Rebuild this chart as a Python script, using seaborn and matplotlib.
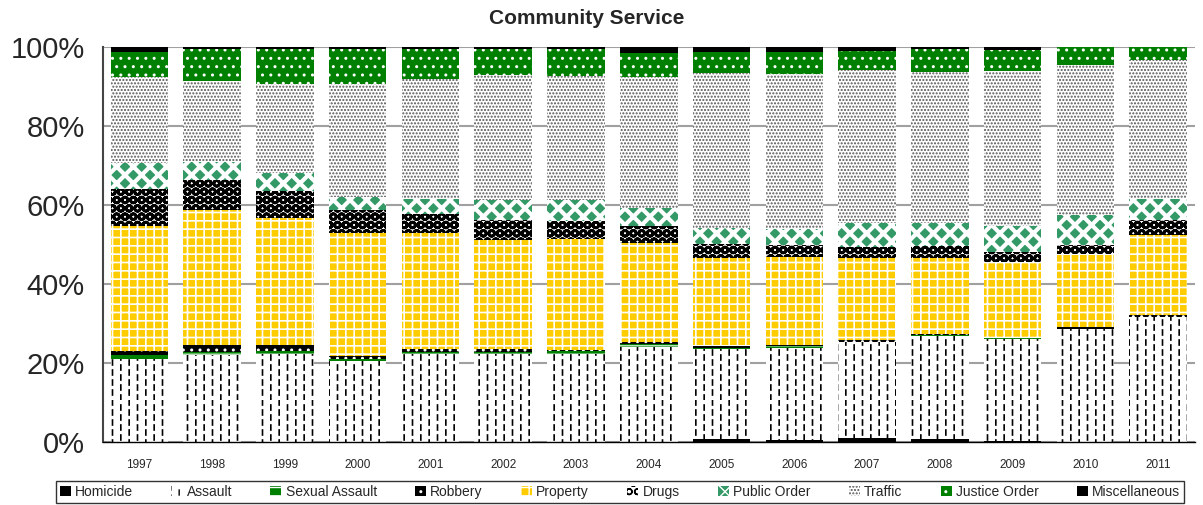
import numpy as np
import seaborn as sns
import pandas as pd
from matplotlib import pyplot as plt
from matplotlib import hatch as mhatch
from matplotlib.path import Path
from matplotlib.patches import Patch

years = [str(y) for y in range(1997, 2012)]
categories = ['Homicide', 'Assault', 'Sexual Assault', 'Robbery', 'Property',
              'Drugs', 'Public Order', 'Traffic', 'Justice Order', 'Miscellaneous']

# percentage share of each offence group per year
homicide = [0, 0, 0, 0, 0, 0, 0, 0, 0.8, 0.6, 1.0, 0.8, 0.2, 0, 0]
assault = [21.1, 22.0, 22.2, 20.5, 22.2, 22.2, 22.4, 24.1, 22.8, 23.2, 24.2, 26.0, 26.0, 28.5, 31.6]
sexual_assault = [0.9, 0.8, 0.8, 0.5, 0.6, 0.6, 0.7, 0.7, 0.3, 0.4, 0.2, 0.3, 0.1, 0.2, 0.1]
robbery = [1.0, 1.7, 1.5, 0.8, 0.7, 0.7, 0.3, 0.5, 0.3, 0.4, 0.5, 0.2, 0.1, 0.3, 0.4]
property_ = [31.7, 34.2, 32.3, 31.2, 29.5, 27.8, 28.1, 25.2, 22.3, 22.3, 20.6, 19.4, 19.2, 18.7, 20.4]
drugs = [9.4, 7.7, 6.8, 5.7, 4.7, 4.9, 4.5, 4.2, 3.6, 3.0, 3.0, 2.9, 2.5, 2.3, 3.7]
public_order = [6.5, 4.6, 4.6, 3.4, 4.0, 5.1, 5.3, 4.6, 4.2, 4.2, 5.9, 5.8, 6.6, 7.6, 5.5]
traffic = [22.0, 20.5, 22.6, 28.7, 30.2, 31.7, 31.4, 33.3, 39.3, 39.3, 38.9, 38.4, 39.4, 37.9, 35.1]
justice_order = [6.3, 8.0, 8.9, 8.7, 7.6, 6.5, 6.8, 6.0, 5.3, 5.5, 4.9, 5.7, 5.2, 4.5, 3.2]
miscellaneous = [1.1, 0.5, 0.3, 0.5, 0.5, 0.5, 0.5, 1.4, 1.1, 1.1, 0.8, 0.5, 0.7, 0, 0]

df = pd.DataFrame({
    'Homicide': homicide, 'Assault': assault, 'Sexual Assault': sexual_assault,
    'Robbery': robbery, 'Property': property_, 'Drugs': drugs,
    'Public Order': public_order, 'Traffic': traffic,
    'Justice Order': justice_order, 'Miscellaneous': miscellaneous,
}, index=years)
df = df.div(df.sum(axis=1), axis=0) * 100
cum = df.cumsum(axis=1)


# '|' drawn as staggered short dashes (Excel's "dashed vertical" fill), '+' stays solid
class DashedVerticalHatch(mhatch.HatchPatternBase):
    def __init__(self, hatch, density):
        self.num_solid = int(hatch.count('+') * density)
        self.num_dashed = int(hatch.count('|') * density)
        self.dashes = 10
        self.num_vertices = 2 * (self.num_solid + self.num_dashed * self.dashes)

    def set_vertices_and_codes(self, vertices, codes):
        i = 0
        if self.num_solid:
            steps, step = np.linspace(0.0, 1.0, self.num_solid, False, retstep=True)
            for s in steps + step / 2:
                vertices[i] = (s, 0.0)
                vertices[i + 1] = (s, 1.0)
                i += 2
        if self.num_dashed:
            steps, step = np.linspace(0.0, 1.0, self.num_dashed, False, retstep=True)
            seg = 1.0 / self.dashes
            for k, s in enumerate(steps + step / 2):
                off = (k % 2) * seg / 2
                for d in range(self.dashes):
                    y0 = d * seg + off
                    vertices[i] = (s, y0)
                    vertices[i + 1] = (s, y0 + seg * 0.5)
                    i += 2
        codes[0::2] = Path.MOVETO
        codes[1::2] = Path.LINETO


mhatch._hatch_types = [DashedVerticalHatch if h is mhatch.VerticalHatch else h
                       for h in mhatch._hatch_types]

# facecolor, hatch colour, hatch, hatch linewidth
styles = {
    'Homicide': ('black', 'black', None, 1.0),
    'Assault': ('white', 'black', '||', 1.2),
    'Sexual Assault': ('#008000', 'white', '--', 0.8),
    'Robbery': ('black', 'white', '..', 1.0),
    'Property': ('#FFCC00', 'white', '++', 1.2),
    'Drugs': ('white', 'black', 'OO', 2.0),
    'Public Order': ('#339966', 'white', 'xx', 3.0),
    'Traffic': ('white', '#555555', '.....', 1.0),
    'Justice Order': ('#008000', 'white', '..', 1.0),
    'Miscellaneous': ('black', 'black', None, 1.0),
}

sns.set_style('white')
plt.rcParams['font.family'] = ['Liberation Sans', 'DejaVu Sans']

fig = plt.figure(figsize=(12.03, 5.05), dpi=100)
ax = fig.add_axes([0.0856, 0.125, 0.9074, 0.781])

# draw cumulative totals from the top group down so each layer covers the one above
for cat in reversed(categories):
    face, hcol, hatch, hlw = styles[cat]
    with plt.rc_context({'hatch.linewidth': hlw}):
        n0 = len(ax.patches)
        sns.barplot(x=years, y=cum[cat].values, color=face, saturation=1,
                    edgecolor=hcol, linewidth=0, hatch=hatch, width=0.79,
                    errorbar=None, ax=ax)
        for p in ax.patches[n0:]:
            if hasattr(p, 'set_hatch_linewidth'):
                p.set_hatch_linewidth(hlw)

ax.set_ylim(0, 100)
ax.set_xlim(-0.5, len(years) - 0.5)
ax.set_yticks(range(0, 101, 20))
ax.set_yticklabels([f'{v}%' for v in range(0, 101, 20)], fontsize=21)
ax.set_xticks(range(len(years)))
ax.set_xticklabels(years, fontsize=8.5)
ax.set_xticks([i + 0.5 for i in range(len(years) - 1)], minor=True)
ax.tick_params(axis='x', which='major', length=0, pad=12)
ax.tick_params(axis='x', which='minor', length=5, width=1, color='black', direction='out')
ax.tick_params(axis='y', length=4, width=1, color='#444444', direction='out', pad=9)
ax.set_xlabel('')
ax.set_ylabel('')
ax.yaxis.grid(True, color='#a0a0a0', linewidth=1.5)
ax.set_axisbelow(True)
for side in ['top', 'right']:
    ax.spines[side].set_visible(False)
ax.spines['left'].set_color('#444444')
ax.spines['left'].set_linewidth(1.5)
ax.spines['bottom'].set_color('black')
ax.spines['bottom'].set_linewidth(1.0)

fig.text(587 / 1203, 1 - 18 / 505, 'Community Service', ha='center', va='center',
         fontsize=15, fontweight='bold')

handles = []
for cat in categories:
    face, hcol, hatch, hlw = styles[cat]
    with plt.rc_context({'hatch.linewidth': min(hlw, 1.0)}):
        handles.append(Patch(facecolor=face, edgecolor=hcol, hatch=hatch,
                             linewidth=0, label=cat))
fig.legend(handles=handles, loc='center', bbox_to_anchor=(620 / 1203, 1 - 492 / 505),
           ncol=10, frameon=True, fancybox=False, edgecolor='black', fontsize=10,
           handlelength=0.8, handleheight=0.8, handletextpad=0.3,
           columnspacing=2.75, borderpad=0.3, borderaxespad=0)

fig.savefig('out.png', dpi=100)
